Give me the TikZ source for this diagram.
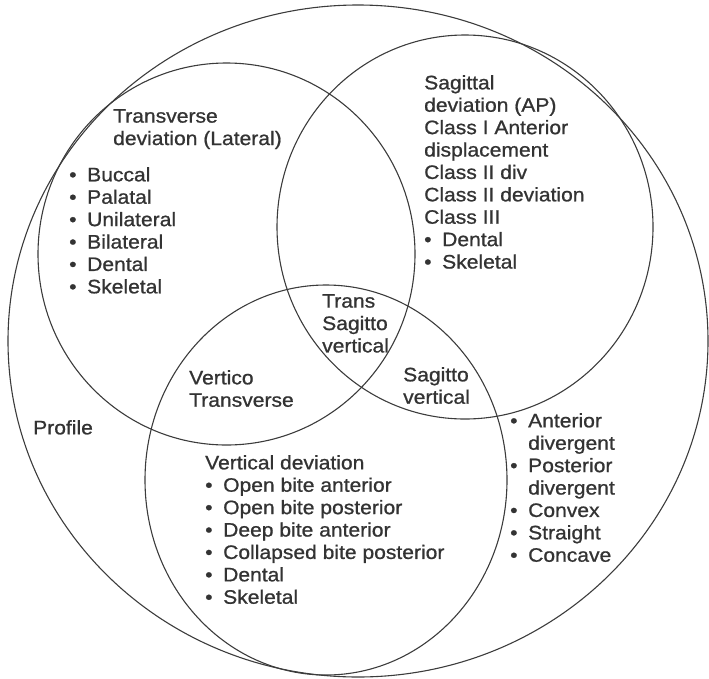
\documentclass[tikz,border=0pt]{standalone}
\usepackage{fontspec}
\setmainfont{Liberation Sans}[FakeStretch=1.08,FakeBold=0.9]
\usetikzlibrary{shapes.geometric}
\definecolor{ink}{HTML}{333333}
\definecolor{edge}{HTML}{3C3C3C}
\newcommand\bul{\makebox[18pt][l]{•}}
\begin{document}
\begin{tikzpicture}[x=1pt,y=-1pt,
  ring/.style={ellipse, draw=edge, line width=1.1pt, inner sep=0pt, outer sep=0pt},
  txt/.style={anchor=north west, inner sep=0pt, align=left, text=ink,
    font=\fontsize{19.5}{22.4}\selectfont}]
\useasboundingbox (0,0) rectangle (709,678);
% circles
\node[ring, minimum width=700pt, minimum height=672pt] (outer) at (358,341) {};
\node[ring, minimum width=377pt, minimum height=382pt] (trans) at (226.5,254) {};
\node[ring, minimum width=376pt, minimum height=384pt] (sag) at (465,227) {};
\node[ring, minimum width=362pt, minimum height=390pt] (vert) at (326,480) {};
% texts
\node[txt] (transtitle) at (113,109) {Transverse\\deviation (Lateral)};
\node[txt] (translist) at (69,167) {\bul Buccal\\\bul Palatal\\\bul Unilateral\\\bul Bilateral\\\bul Dental\\\bul Skeletal};
\node[txt] (sagtext) at (424,75) {Sagittal\\deviation (AP)\\Class I Anterior\\displacement\\Class II div\\Class II deviation\\Class III\\\bul Dental\\\bul Skeletal};
\node[txt] (tsv) at (322,294) {Trans\\Sagitto\\vertical};
\node[txt] (vt) at (189,370) {Vertico\\Transverse};
\node[txt] (sv) at (403,367) {Sagitto\\vertical};
\node[txt] (profile) at (33,420) {Profile};
\node[txt] (verttext) at (205,455) {Vertical deviation\\\bul Open bite anterior\\\bul Open bite posterior\\\bul Deep bite anterior\\\bul Collapsed bite posterior\\\bul Dental\\\bul Skeletal};
\node[txt] (proflist) at (510,413) {\bul Anterior\\\hspace*{18pt}divergent\\\bul Posterior\\\hspace*{18pt}divergent\\\bul Convex\\\bul Straight\\\bul Concave};
\end{tikzpicture}
\end{document}
